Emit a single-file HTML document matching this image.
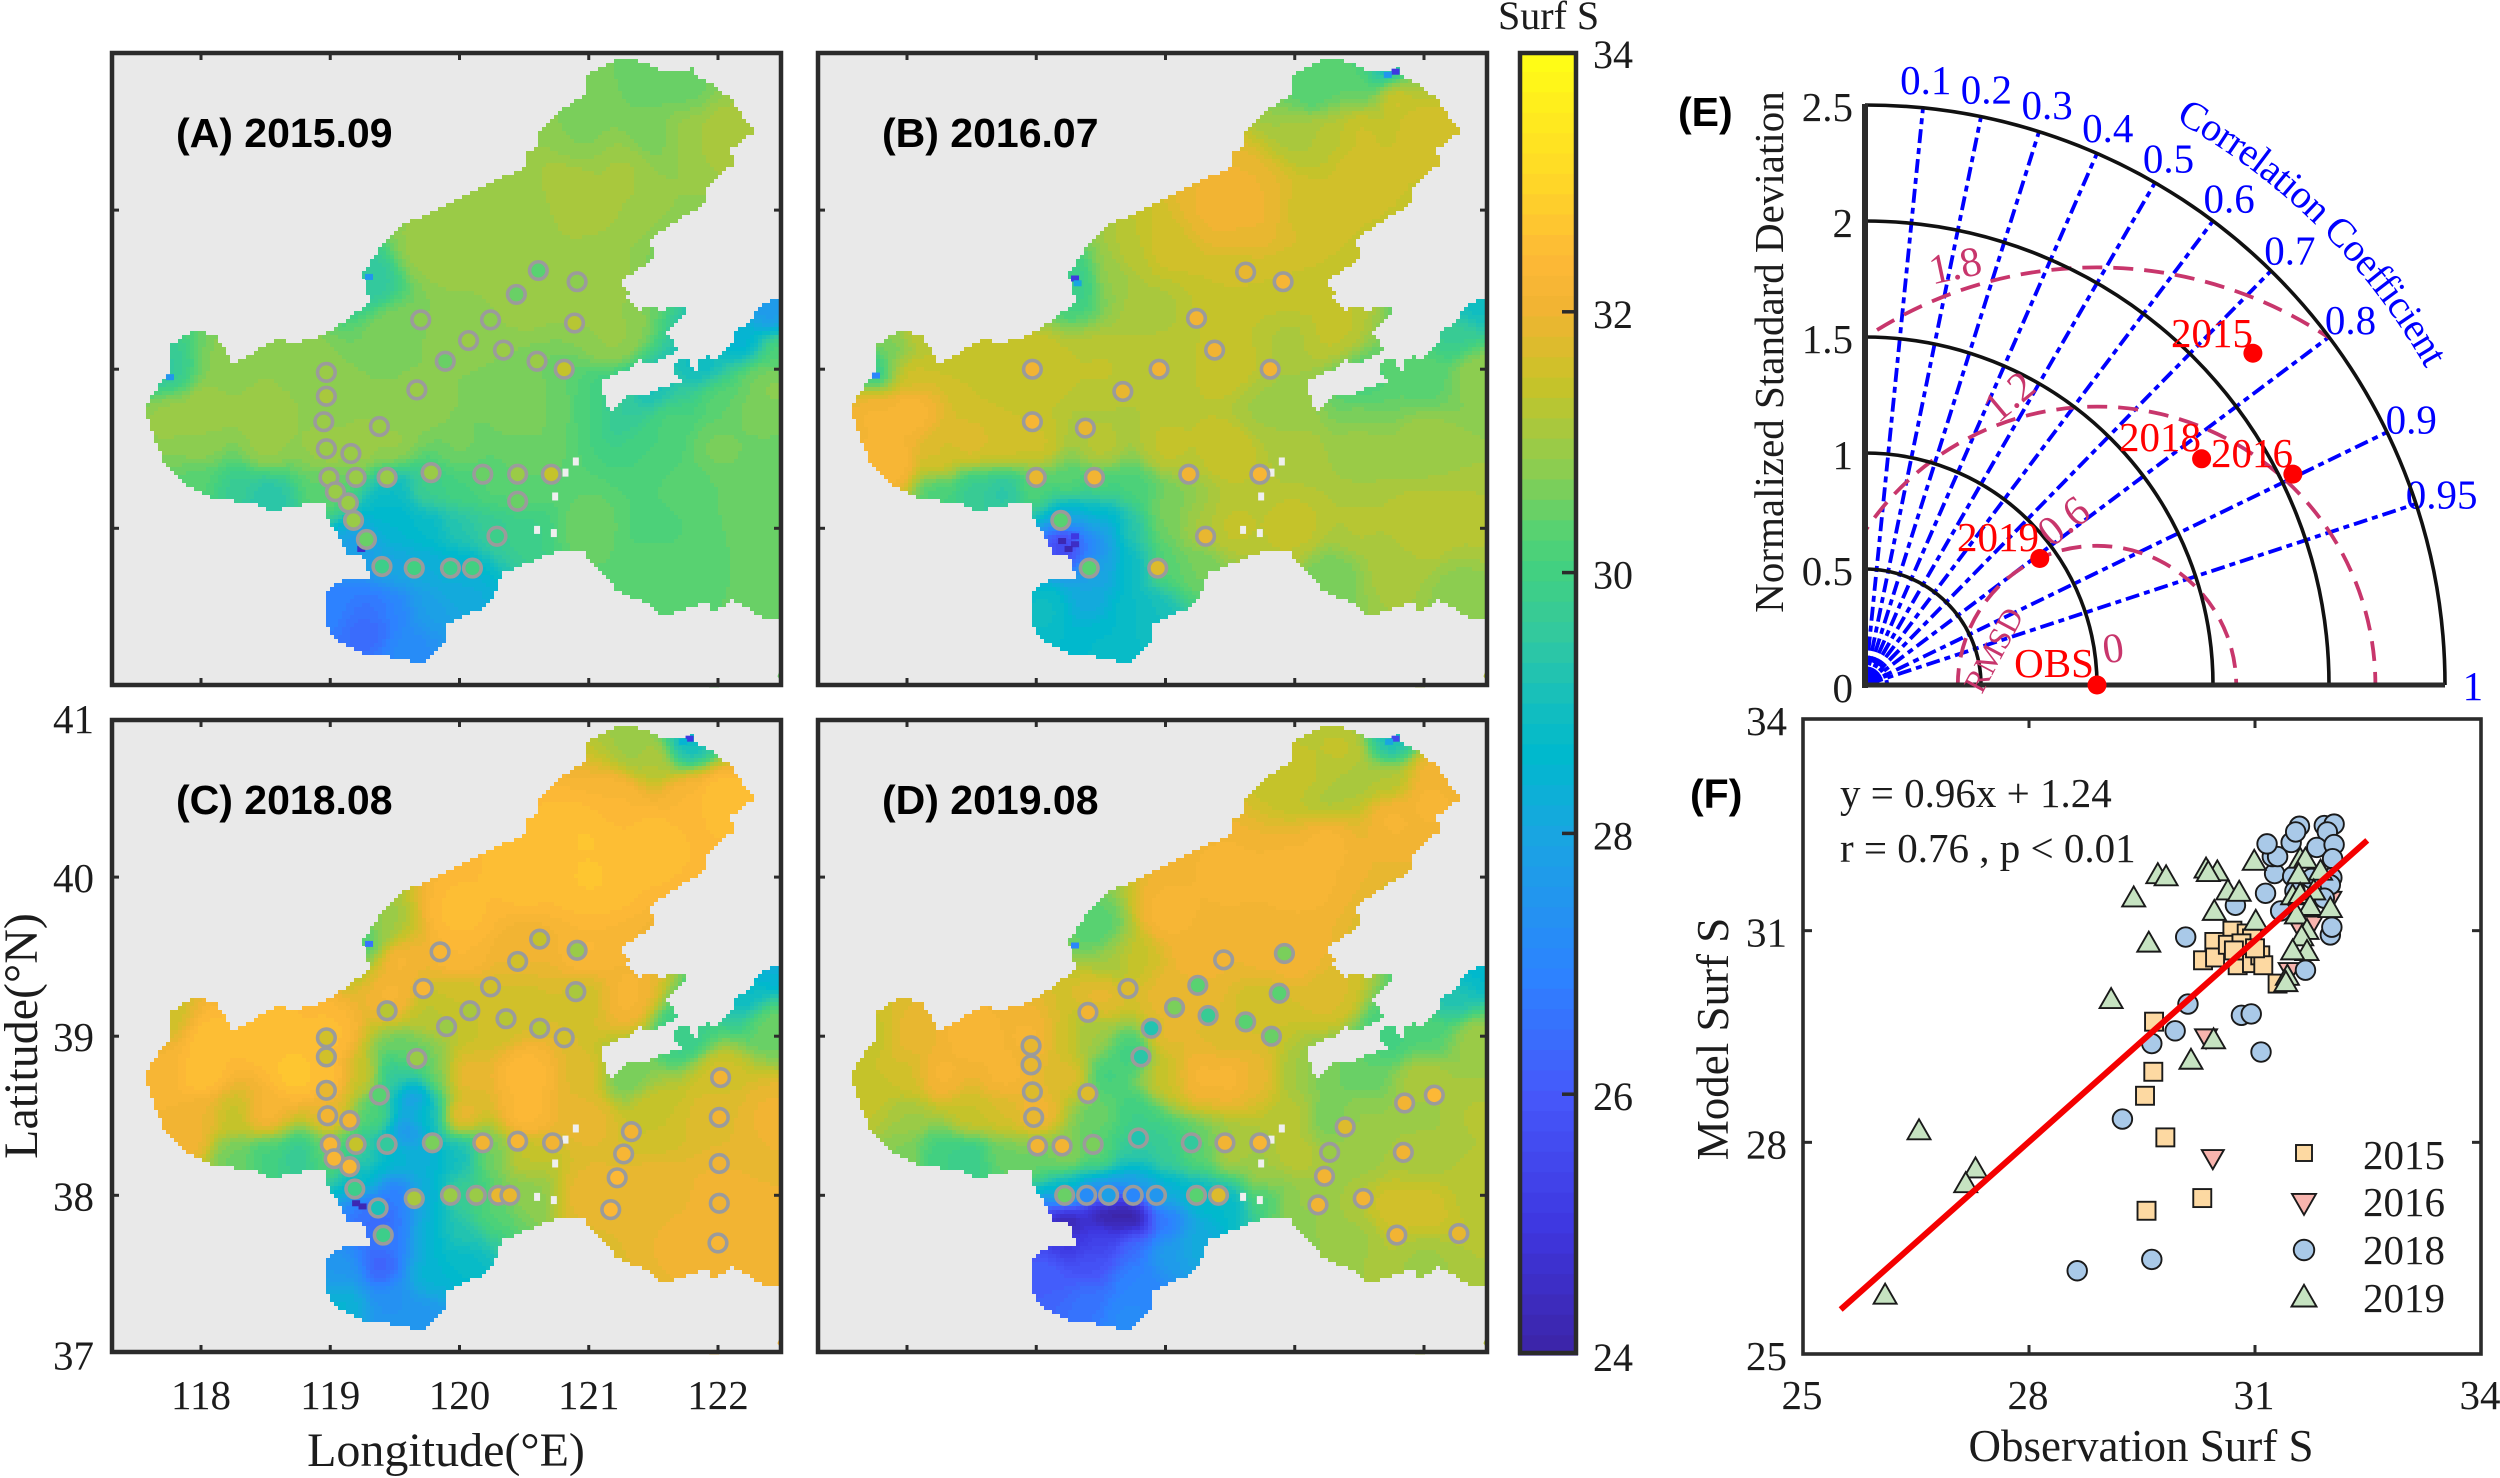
<!DOCTYPE html>
<html lang="en">
<head>
<meta charset="utf-8">
<title>Surface salinity maps, Taylor diagram and scatter</title>
<style>
html,body{margin:0;padding:0;background:#fff;}
svg{display:block;}
text{font-family:"Liberation Serif",serif;fill:#1c1c1c;}
.bold{font-family:"Liberation Sans",sans-serif;font-weight:bold;fill:#000;}
</style>
</head>
<body>
<svg id="figure" xmlns="http://www.w3.org/2000/svg" width="2500" height="1478" viewBox="0 0 2500 1478"></svg>
<script>
/* ---------- colour scale ---------- */
const scaleValues=[24,25,26,26.9,28,28.6,29,29.5,30,30.3,30.8,31.45,32,32.4,33,34];
const scaleColors=[[60,35,165],[62,55,225],[70,88,250],[45,130,255],[25,165,225],[0,185,205],[20,190,190],[50,200,160],[65,208,130],[85,210,115],[140,205,80],[200,195,40],[240,180,50],[253,184,55],[255,215,40],[255,255,20]];
const colorbarTicks=[24,26,28,30,32,34];

/* ---------- maps ---------- */
const lonTicks=[118,119,120,121,122];
const latTicks=[37,38,39,40,41];
const coast=[[121.19,40.94],[121.36,40.94],[121.53,40.90],[121.59,40.86],[121.80,40.89],[121.84,40.83],[121.98,40.78],[122.10,40.70],[122.28,40.49],[122.10,40.38],[122.12,40.29],[121.91,40.14],[121.91,40.04],[121.70,39.95],[121.66,39.92],[121.48,39.82],[121.50,39.69],[121.23,39.54],[121.31,39.48],[121.27,39.45],[121.34,39.41],[121.40,39.37],[121.48,39.40],[121.56,39.37],[121.65,39.39],[121.73,39.40],[121.77,39.35],[121.62,39.26],[121.60,39.23],[121.63,39.20],[121.69,39.12],[121.47,39.03],[121.40,39.06],[121.35,39.03],[121.35,39.01],[121.19,38.96],[121.09,38.92],[121.16,38.73],[121.25,38.79],[121.34,38.85],[121.42,38.83],[121.61,38.90],[121.73,38.92],[121.66,38.99],[121.66,39.03],[121.75,39.08],[121.80,39.01],[121.85,38.98],[121.85,39.05],[121.93,39.08],[121.96,39.05],[122.05,39.12],[122.12,39.17],[122.12,39.23],[122.24,39.29],[122.31,39.38],[122.44,39.45],[122.50,39.44],[122.50,37.44],[122.38,37.43],[122.15,37.53],[122.12,37.56],[121.98,37.47],[121.91,37.53],[121.57,37.45],[121.46,37.53],[121.23,37.60],[121.12,37.70],[120.95,37.86],[120.74,37.85],[120.33,37.72],[120.29,37.60],[120.16,37.49],[119.89,37.40],[119.88,37.29],[119.71,37.15],[119.46,37.19],[119.27,37.21],[119.05,37.29],[118.97,37.40],[118.95,37.59],[119.10,37.68],[119.31,37.69],[119.25,37.82],[119.14,37.83],[118.97,38.08],[118.97,38.15],[118.86,38.16],[118.54,38.11],[118.44,38.15],[118.07,38.19],[117.84,38.30],[117.71,38.41],[117.56,38.76],[117.69,38.92],[117.77,38.99],[117.75,39.14],[117.95,39.25],[118.12,39.21],[118.24,39.05],[118.29,39.05],[118.61,39.20],[118.71,39.16],[118.93,39.21],[119.08,39.28],[119.31,39.43],[119.25,39.59],[119.33,39.71],[119.46,39.82],[119.54,39.90],[119.74,39.97],[120.08,40.10],[120.29,40.20],[120.38,40.22],[120.50,40.27],[120.50,40.34],[120.61,40.41],[120.59,40.48],[120.82,40.65],[120.97,40.72],[120.97,40.84]];
const islets=[[120.90,38.42],[120.82,38.35],[120.74,38.20],[120.60,37.99],[120.73,37.97]];
const cornerPatchEast=[[122.46,37.07],[122.50,37.15],[122.50,37.02]];
const cornerPatchSouth=[[121.93,37.0],[121.97,37.03],[122.01,37.0]];

const fieldA=[[121.5,40.75,30.5],[121.75,40.5,30.95],[122,40.5,31.15],[121.75,40.75,30.5],[121.25,40.25,31.05],[120.85,40.1,31.15],[121.5,40.5,30.6],[121,40.5,30.7],[120.5,40,30.9],[120,39.75,31],[120.5,39.5,30.95],[121,39.5,30.95],[121.2,39.2,30.9],[120,39.25,30.8],[119.75,39.75,30.95],[119.5,39.25,30.7],[118.25,39,30.8],[117.75,38.75,31],[118,38.75,31.05],[118.5,38.75,31],[118.75,39,30.8],[119,38.75,30.8],[118,38.3,30.3],[118.25,38.25,29.7],[118.5,38.2,29.3],[118,38.5,30.85],[118.5,38.5,30.95],[119,38.25,30.4],[119,38.5,31],[119.25,38.5,31],[119.5,38.5,30.95],[119.75,38.75,30.8],[120,38.5,30.6],[120.5,38.75,30.7],[120.5,38.5,30.55],[120.75,38.75,30.55],[121,38.75,30.1],[121.25,38.75,29.6],[121.5,38.85,29],[121.9,39,28.8],[122.2,39.15,28.3],[122.4,39.35,27.6],[121.6,38.7,30.2],[122,38.85,30.4],[122.3,38.95,30.6],[122.45,39.1,30.3],[122.25,38.75,30.6],[122.4,38.9,30.85],[122,38.5,30.6],[121.5,38.5,30.1],[121.75,38.25,30.3],[122.25,38.25,30.5],[121.5,38,30.2],[122,37.75,30.4],[122.4,37.75,30.5],[121,38,30.5],[121.5,37.75,30.35],[120.5,38.25,30.4],[120.25,38.25,30.3],[120,38.25,30.1],[119.75,38.25,29.9],[119.5,38.25,28.8],[119.5,38.1,28.6],[120,38,29.3],[120.5,38,29.9],[120.25,38,29.7],[119.75,38,28.7],[119.5,38,28.5],[119.5,37.75,28],[119.25,37.9,27.8],[120,37.75,28.5],[119.75,37.75,28.2],[119.35,37.5,26.6],[119.3,37.37,26.3],[119,37.5,26.9],[119.5,37.5,27],[119.75,37.5,27.8],[120,37.6,28.1],[119.6,37.25,27.2],[119.3,39.55,29.5],[117.72,38.95,29.5]];
const fieldB=[[121.3,40.85,30.3],[121.15,40.7,30.2],[121.5,40.8,30.4],[121.7,40.85,28.5],[122,40.5,31.6],[121.75,40.75,32],[121.5,40.5,31.55],[121.25,40.5,31.3],[121.1,40.5,31.15],[120.75,40,32],[120.4,40,32],[120.6,40.1,32],[121,40,31.6],[121.5,40.25,31.6],[120,39.75,31.6],[119.75,39.7,31.3],[119.6,39.6,30.9],[119.9,39.4,31.15],[120.5,39.5,31.5],[121,39.5,31.5],[121,39.2,31.15],[121.25,39.25,31.4],[120.5,39,31.45],[120,39,31.3],[119.5,39,31.35],[119,39,31.5],[118.5,39,31.5],[118,39,31.7],[117.8,39.2,30.8],[117.9,39.1,30.5],[118.1,39.25,31.4],[117.75,38.75,32.2],[117.9,38.4,32.3],[118,38.75,32.3],[118.25,38.4,31.8],[118.25,38.25,30],[118.5,38.25,29.6],[118.5,38.5,31.8],[118.75,38.5,31.7],[118.75,38.25,29.3],[119,38.5,31.6],[119,38.25,30.3],[119.25,38.25,30.5],[119.5,38.25,30.3],[119.5,38.5,31.3],[120,38.5,31.4],[120.5,38.5,31.5],[120.75,38.75,31],[121,38.75,30.9],[121,38.5,31.15],[121.5,38.75,30.75],[121.5,38.85,30],[122,39,30.3],[122.25,39.2,29.7],[122.4,39.4,28.9],[122.4,39,30.9],[122,38.5,31],[121.5,38.5,31],[121.5,38,31.2],[122,38,31.35],[122.4,38,31.2],[121.75,37.75,31.1],[121,38,31.4],[122.3,37.6,30.8],[121.3,37.7,30.6],[120.5,38,31.4],[120.25,38,31.1],[120,38.1,30.7],[120,38,30.6],[119.75,38.25,30.2],[119.75,38,29.3],[119.5,38,27.8],[119.4,37.9,26.8],[119.25,37.9,25],[119.5,38.1,28.7],[119.25,38.1,28],[120,37.75,30.4],[119.75,37.75,28.8],[119.5,37.75,27.9],[120.25,37.75,30.6],[119.4,37.55,28.1],[119.1,37.5,28.9],[119.5,37.3,28.7],[119.75,37.5,28.8],[119.9,37.5,29],[119.3,39.55,29.8],[117.75,39.0,29.5]];
const fieldC=[[121.5,40.75,31.3],[121.4,40.8,30.9],[121.75,40.85,28.8],[122,40.5,32.6],[121.75,40.5,32.3],[121.25,40.5,32.3],[121,40.25,32.6],[121.5,40.25,32.55],[120.5,40,32.5],[121,40,32.6],[120,39.75,32.5],[119.5,39.5,32.3],[119.4,39.65,31],[120,39.5,32.3],[120.5,39.5,32],[121,39.5,32.3],[121.25,39.25,32.2],[120,39.25,31.5],[120.5,39.25,31.6],[121,39.25,31.5],[120.25,39.1,31.5],[119.5,39.25,32.2],[119.75,39.15,31.3],[119,39,32.5],[118.5,39,32.6],[118,39,32.6],[117.8,39.1,31.5],[117.7,38.75,32.2],[118,38.75,32.6],[118,38.5,32],[117.9,38.35,32.1],[118.25,38.25,30.5],[118.5,38.25,30],[118.75,38.25,29.6],[118.5,38.5,32.3],[118.75,38.75,32.7],[118.25,38.5,31.4],[119,38.5,32],[119.25,38.75,31.5],[119,38.75,32.6],[119.5,38.75,29.5],[119.65,38.6,27.4],[119.6,38.4,27.2],[119.75,38.5,29],[119.85,38.75,30.5],[119.6,38.9,30.5],[119.35,38.5,30.3],[120,38.75,32.2],[120,38.5,32.2],[120.5,38.75,32.4],[120.5,38.5,32.4],[121,38.75,31.8],[121,38.5,31.9],[121.25,38.75,30.5],[121.75,39,29.8],[122.25,39.25,28.8],[122.4,39.4,28.3],[122.4,39.1,30.6],[122,38.75,31.6],[121.5,38.5,31.5],[122,38.5,31.8],[122.4,38.5,32],[121.5,38,31.9],[122,38,32],[122.4,37.75,32],[121.75,37.75,32],[121,38,31.9],[120.5,38.25,31.4],[120.25,38.25,30.6],[120,38.25,28.9],[119.75,38.25,28.3],[119.5,38.25,28.6],[119.25,38.25,29.6],[119.25,38.1,28.8],[119,38.25,30.4],[119.5,38,26.7],[119.4,37.85,26.2],[119.3,37.9,26.5],[119.75,38,28.3],[120,38,29.8],[120.5,38,30.8],[120.25,37.9,30.3],[120,37.75,29.3],[119.75,37.75,28.5],[119.5,37.75,26.7],[119.4,37.55,26.1],[119.1,37.5,27.5],[119.1,37.35,28.5],[119.5,37.35,27.4],[119.75,37.5,28.5],[120,37.6,28.7],[119.7,37.25,27.5],[119.3,39.6,30]];
const fieldD=[[121.4,40.8,31.4],[121.25,40.5,31.1],[121.5,40.6,31.1],[121.75,40.6,31.2],[121.1,40.6,31.4],[121.75,40.85,29],[122,40.5,32.2],[122.05,40.65,32.1],[121.75,40.4,32.2],[121.25,40.25,32.2],[121,40,32.2],[120.5,40,32.15],[120,39.75,32.2],[119.75,39.5,31.5],[119.5,39.65,30.2],[119.6,39.5,31],[120.25,39.5,32.1],[120.75,39.5,32],[121,39.5,32.1],[121.25,39.25,31.7],[120.75,39.2,31.5],[120.25,39.25,31.9],[120.5,39,31.7],[120.25,38.75,32.2],[120.5,38.75,32.2],[120.75,38.75,31.9],[121,38.75,31],[120,38.75,31.5],[120,39,31.9],[120,39.25,31.9],[119.75,38.9,29.9],[119.5,38.75,29.9],[119.5,38.5,30.5],[119.4,39,31],[119.3,38.75,31.9],[119.2,39,31.6],[119.75,38.5,29.9],[119.5,39.25,31.9],[119,39,32.2],[118.5,39,32.2],[118,39,31.9],[117.75,39,31.4],[118,38.75,31.6],[118.25,38.75,32.2],[118.75,38.75,32.2],[119,38.5,32.2],[117.75,38.6,31.4],[118,38.5,31],[118.25,38.25,29.9],[118,38.25,30.7],[118.5,38.25,29.7],[118.75,38.25,30.5],[118.5,38.5,31.5],[118.75,38.5,31.7],[119,38.25,30.5],[119.25,38.25,30.9],[121.5,38.75,30.4],[121.25,38.75,30.6],[122,38.75,31.2],[122,39,30.2],[121.75,39,30],[122.25,39.25,29.2],[122.4,39.4,28.6],[122.4,39,31],[121.5,38.5,30.9],[121.25,38.5,30.5],[122,38.5,31],[122.4,38.5,31.2],[121,38.5,31.3],[121,38.25,31.3],[121.5,38.25,31],[122,38.25,31.1],[122.4,38,31.3],[122,37.9,31.6],[121.75,37.9,31.6],[121.5,37.75,31],[122,37.6,31],[121,37.95,30.9],[120.75,38.1,31.2],[120.5,38.25,31.2],[120.25,38.25,30.4],[120,38.25,29.8],[119.75,38.25,29.6],[119.5,38.25,30.5],[119.75,38.1,27.8],[120,38,28.4],[120.25,38,28.7],[120.5,37.95,28.6],[120.75,38,30],[119.5,38,28.2],[119.25,38,29],[119.5,37.9,23.2],[119.75,37.85,23.4],[119.25,37.85,23.5],[119.6,37.88,23.5],[120,37.85,26.6],[119.5,37.75,25.5],[119.75,37.7,26.7],[120,37.65,27.8],[120.25,37.7,28.2],[119.25,37.7,25],[119.4,37.55,25.8],[119.1,37.5,26.2],[119.4,37.35,26.6],[119.75,37.45,27],[119.7,37.25,27.2]];

const lowA=[[119.24,37.87,24.6],[119.3,39.58,27.5],[117.76,38.95,27.5]];
const lowB=[[121.78,40.87,25],[121.72,40.85,27.5],[119.3,39.57,25],[119.32,39.54,28],[117.76,38.96,27],[119.2,37.92,24.3],[119.3,37.9,24.5],[119.25,37.87,24.3],[119.3,37.95,25]];
const lowC=[[121.78,40.87,25],[121.73,40.85,28.5],[119.3,39.58,26.5],[119.2,37.95,24.3],[119.25,37.93,24.3]];
const lowD=[[121.78,40.87,25.5],[121.73,40.85,28],[119.3,39.57,27]];

const stationsA=[[120.61,39.62,30.3],[120.91,39.55,30.8],[120.44,39.47,30.5],[119.70,39.31,30.85],[120.24,39.31,30.8],[120.89,39.29,31.3],[120.07,39.18,30.9],[120.34,39.12,31],[119.89,39.05,30.5],[120.60,39.05,31],[120.81,39.00,31.45],[119.67,38.87,30.9],[118.97,38.98,30.9],[118.97,38.83,31.1],[118.95,38.67,31],[119.38,38.64,30.9],[118.97,38.50,30.95],[119.16,38.47,30.9],[118.99,38.32,31],[119.20,38.32,30.9],[119.44,38.32,31],[119.78,38.35,31],[120.18,38.34,30.55],[120.45,38.34,30.95],[120.71,38.34,31.4],[120.45,38.17,30.5],[119.04,38.23,31],[119.14,38.16,31],[119.18,38.05,31],[119.28,37.93,30.5],[119.40,37.76,29.8],[119.65,37.75,30],[119.93,37.75,29.9],[120.10,37.75,30],[120.29,37.95,29.9]];
const stationsB=[[120.62,39.61,31.9],[120.91,39.55,32.2],[120.24,39.32,32],[120.38,39.12,32.1],[118.97,39.0,32.1],[119.95,39.0,32.1],[120.81,39.0,32.1],[119.67,38.86,31.9],[118.97,38.67,32.2],[119.38,38.63,31.9],[119.0,38.32,31.9],[119.45,38.32,32],[120.18,38.34,32],[120.73,38.34,32.2],[119.19,38.05,30.4],[119.41,37.75,30.4],[120.31,37.95,31.9],[119.94,37.75,31.7]];
const stationsC=[[120.62,39.61,31.4],[120.91,39.54,31],[119.85,39.53,32.2],[120.45,39.47,31.6],[120.24,39.31,31.5],[119.72,39.30,32.2],[120.90,39.28,31.1],[119.44,39.16,31.3],[120.08,39.16,31.1],[120.36,39.11,31.3],[119.90,39.06,30.9],[120.62,39.05,31.2],[120.81,38.99,31.6],[118.97,38.99,31.6],[118.97,38.87,31.5],[119.67,38.86,31],[118.97,38.66,31.9],[119.38,38.63,30.3],[118.98,38.50,32],[119.15,38.47,32],[119.0,38.32,32.2],[119.20,38.32,31.4],[119.44,38.32,29.5],[119.79,38.33,30.6],[120.18,38.33,32.1],[120.45,38.34,32.2],[120.72,38.33,32.1],[119.03,38.23,32.2],[119.15,38.18,32.2],[119.19,38.04,29.9],[119.37,37.92,29],[119.41,37.75,29.9],[119.65,37.98,31.1],[119.93,38.0,30.9],[120.13,38.0,30.9],[120.30,38.0,31.9],[120.39,38.0,31.9],[121.33,38.40,32],[121.27,38.26,32.2],[121.22,38.11,32.4],[121.17,37.91,32.4],[122.02,38.74,32.1],[122.01,38.49,32.1],[122.01,38.20,32.1],[122.01,37.95,32],[122.0,37.70,32.2]];
const stationsD=[[120.92,39.52,30.7],[120.45,39.48,32],[120.25,39.32,30.4],[119.71,39.30,31.7],[120.88,39.27,30.4],[119.40,39.15,32.1],[120.07,39.18,30.6],[120.33,39.13,29.7],[119.89,39.05,29.2],[120.62,39.09,30.4],[120.82,39.0,30.5],[118.96,38.94,31.9],[118.96,38.82,31.9],[119.81,38.87,29.4],[118.97,38.65,31.7],[119.40,38.64,31.7],[118.98,38.49,31.9],[119.01,38.31,32],[119.20,38.31,32],[119.44,38.32,30.6],[119.79,38.36,29.2],[120.20,38.33,29.6],[120.46,38.33,32],[120.73,38.33,32.2],[119.22,38.0,30.5],[119.39,38.0,27.2],[119.56,38.0,27.8],[119.75,38.0,27],[119.93,38.0,27.5],[120.24,38.0,30.3],[120.41,38.0,31.8],[121.39,38.43,31.8],[121.27,38.27,31],[121.23,38.12,32],[121.18,37.94,32],[121.53,37.98,32.1],[121.85,38.58,32.1],[122.08,38.63,32.4],[121.84,38.27,32.1],[121.79,37.75,32],[122.27,37.76,31.9]];

/* ---------- Taylor diagram ---------- */
const stdTicks=[0,0.5,1,1.5,2,2.5];
const stdLabels=["0","0.5","1","1.5","2","2.5"];
const corrTicks=[0.1,0.2,0.3,0.4,0.5,0.6,0.7,0.8,0.9,0.95];
const corrLabels=["0.1","0.2","0.3","0.4","0.5","0.6","0.7","0.8","0.9","0.95"];
const rmsdTicks=[0.6,1.2,1.8];
const taylorNames=["2015","2016","2018","2019","OBS"];
const taylorStd=[2.2,2.056,1.748,0.93,1];
const taylorCorr=[0.76,0.897,0.83,0.81,1];

/* ---------- scatter ---------- */
const scatterTicks=[25,28,31,34];
const obs2015=[29.66,29.65,29.54,29.81,29.56,30.30,30.70,30.46,30.89,30.31,30.47,30.64,30.77,30.86,30.96,31.07,30.96,31.11,31.30,30.82,31.0,30.72];
const mod2015=[29.71,29.0,28.66,28.07,27.03,27.21,31.0,30.84,30.96,30.58,30.62,30.80,30.51,30.72,30.54,30.65,30.89,30.51,30.25,30.82,30.75,30.72];
const obs2016=[30.44,30.35,31.46,31.57,31.75,32.0];
const mod2016=[27.76,29.47,30.41,31.07,31.07,31.42];
const obs2018=[28.64,29.63,29.24,29.63,29.94,30.11,31.08,30.82,30.95,30.08,30.74,31.67,32.0,32.02,31.14,31.34,31.26,31.23,31.30,31.16,31.48,31.59,31.54,31.92,32.05,31.96,31.82,32.05,32.03,32.02,32.0,31.50,31.53,31.75,31.92];
const mod2018=[26.18,26.34,28.33,29.40,29.58,29.96,29.28,29.80,29.82,30.91,31.36,30.44,30.94,31.05,31.53,31.28,31.81,32.05,32.05,32.23,32.25,32.48,32.40,32.49,32.51,32.40,32.18,32.22,32.02,31.75,31.65,31.77,31.56,31.74,31.46];
const obs2019=[26.09,26.54,27.29,27.16,29.09,30.15,30.45,29.59,29.39,29.71,29.82,30.35,30.50,30.38,30.64,30.79,30.46,31.01,30.99,31.60,31.67,31.58,31.87,31.50,31.60,31.78,31.73,31.55,32.0,31.69,31.62,31.69,31.5,31.43,31.41];
const mod2019=[25.85,28.18,27.64,27.43,30.04,29.18,29.47,30.84,31.48,31.81,31.78,31.89,31.85,31.84,31.58,31.56,31.29,31.15,32.0,32.03,32.03,31.81,31.86,31.51,31.53,31.58,31.36,31.24,31.33,31.02,30.93,30.72,30.73,30.37,30.28];
const fitObs=[25.5,32.49];
const fitMod=[25.63,32.28];
const legendYears=["2015","2016","2018","2019"];

/* ---------- helpers ---------- */
const NS='http://www.w3.org/2000/svg';
const root=document.getElementById('figure');
function mk(tag,attrs,parent){
  const el=document.createElementNS(NS,tag);
  for(const k in attrs){el.setAttribute(k,attrs[k]);}
  (parent||root).appendChild(el);
  return el;
}
function label(str,x,y,size,anchor,name,parent,extra){
  const el=mk('text',Object.assign({x:x,y:y,'font-size':size,'text-anchor':anchor||'start'},extra||{}),parent);
  el.textContent=str;
  
  
  return el;
}
function line(x1,y1,x2,y2,stroke,w,name,parent,extra){
  const el=mk('line',Object.assign({x1:x1,y1:y1,x2:x2,y2:y2,stroke:stroke,'stroke-width':w},extra||{}),parent);
  
  
  return el;
}
function group(name,parent){
  const g=mk('g',{},parent);
  
  
  return g;
}
function colorOf(v){
  const levels=64;
  let t=Math.floor((v-24)/10*levels);
  t=Math.max(0,Math.min(levels-1,t));
  const c=24+(t+0.5)*10/levels;
  let i=0;
  while(i<scaleValues.length-2&&c>scaleValues[i+1]){i++;}
  const f=(c-scaleValues[i])/(scaleValues[i+1]-scaleValues[i]);
  const a=scaleColors[i],b=scaleColors[i+1];
  return 'rgb('+Math.round(a[0]+(b[0]-a[0])*f)+','+Math.round(a[1]+(b[1]-a[1])*f)+','+Math.round(a[2]+(b[2]-a[2])*f)+')';
}
function inside(lon,lat,poly){
  let c=false;
  for(let i=0,j=poly.length-1;i<poly.length;j=i++){
    const a=poly[i],b=poly[j];
    if((a[1]>lat)!==(b[1]>lat)&&lon<(b[0]-a[0])*(lat-a[1])/(b[1]-a[1])+a[0]){c=!c;}
  }
  return c;
}

/* ---------- map panel ---------- */
const DEG_X=129.25,DEG_Y=159.1,CELL=4,SOFT=22;
function drawPanel(cfg){
  const L=cfg.left,T=cfg.top,W=673,H=636;
  const xOf=lon=>L+91+(lon-118)*DEG_X;
  const yOf=lat=>T+(41-lat)*DEG_Y;
  const g=group(cfg.name);
  const bg=mk('rect',{x:L,y:T,width:W,height:H,fill:'#e9e9e9'},g);
  
  
  const cells=group('salinity-field',g);
  for(let py=T;py<T+H;py+=CELL){
    let runX=null,runC=null;
    const flush=endX=>{
      if(runX===null){return;}
      const r=mk('rect',{x:runX,y:py,width:endX-runX,height:CELL,fill:runC,'shape-rendering':'crispEdges'},cells);
      
      
      runX=null;
    };
    for(let px=L;px<L+W;px+=CELL){
      const lon=118+(px+CELL/2-L-91)/DEG_X;
      const lat=41-(py+CELL/2-T)/DEG_Y;
      if(!inside(lon,lat,coast)){flush(px);continue;}
      let sw=0,sv=0;
      for(const p of cfg.field){
        const dx=(p[0]-lon)*DEG_X,dy=(p[1]-lat)*DEG_Y;
        const d2=dx*dx+dy*dy+SOFT*SOFT;
        const w=1/(d2*d2*Math.sqrt(d2));
        sw+=w;sv+=w*p[2];
      }
      const c=colorOf(sv/sw);
      if(runX===null){runX=px;runC=c;}
      else if(c!==runC){flush(px);runX=px;runC=c;}
    }
    flush(Math.min(L+W,L+Math.ceil(W/CELL)*CELL));
  }
  for(const p of cfg.low){
    const r=mk('rect',{x:xOf(p[0])-4,y:yOf(p[1])-3,width:8,height:6,fill:colorOf(p[2])},g);
    
    
  }
  for(const isl of islets){
    const r=mk('rect',{x:xOf(isl[0])-3,y:yOf(isl[1])-4,width:6,height:8,fill:'#efefef'},g);
    
    
  }
  for(const patch of [cornerPatchEast,cornerPatchSouth]){
    const r=mk('polygon',{points:patch.map(q=>xOf(q[0])+','+yOf(q[1])).join(' '),fill:colorOf(cfg.patchValue)},g);
    
    
  }
  const st=group('station-markers',g);
  for(const s of cfg.stations){
    const c=mk('circle',{cx:xOf(s[0]),cy:yOf(s[1]),r:8.8,fill:colorOf(s[2]),stroke:'#9b9b9b','stroke-width':3.6},st);
    
    
  }
  for(const lon of lonTicks){
    line(xOf(lon),T,xOf(lon),T+9,'#2b2b2b',3,'lon-tick-top',g);
    line(xOf(lon),T+H-9,xOf(lon),T+H,'#2b2b2b',3,'lon-tick-bottom',g);
  }
  for(const lat of latTicks.slice(1,4)){
    line(L,yOf(lat),L+9,yOf(lat),'#2b2b2b',3,'lat-tick-left',g);
    line(L+W-9,yOf(lat),L+W,yOf(lat),'#2b2b2b',3,'lat-tick-right',g);
  }
  const frame=mk('rect',{x:L+2,y:T+2,width:W-4,height:H-4,fill:'none',stroke:'#2b2b2b','stroke-width':4.5},g);
  
  
  const t=label(cfg.title,L+66,T+96,41,'start','panel-title',g);
  t.setAttribute('class','bold');
  if(cfg.axes){
    for(const lon of lonTicks){label(String(lon),xOf(lon),1409,41,'middle','lon-tick-label',g);}
    for(const lat of latTicks){label(String(lat),94,yOf(lat)+15,41,'end','lat-tick-label',g);}
    label('Longitude(°E)',446,1466,48,'middle','x-axis-title',g);
    const yt=label('Latitude(°N)',0,0,48,'middle','y-axis-title',g);
    yt.setAttribute('transform','translate(37 1036) rotate(-90)');
  }
}
drawPanel({name:'map-panel-a',left:110,top:51,title:'(A) 2015.09',field:fieldA,low:lowA,stations:stationsA,patchValue:30.5});
drawPanel({name:'map-panel-b',left:816,top:51,title:'(B) 2016.07',field:fieldB,low:lowB,stations:stationsB,patchValue:31.3});
drawPanel({name:'map-panel-c',left:110,top:718,title:'(C) 2018.08',field:fieldC,low:lowC,stations:stationsC,patchValue:32.2,axes:true});
drawPanel({name:'map-panel-d',left:816,top:718,title:'(D) 2019.08',field:fieldD,low:lowD,stations:stationsD,patchValue:31.3});

/* ---------- colour bar ---------- */
(function(){
  const g=group('colorbar');
  const top=51,bottom=1355,left=1518,right=1578;
  const yOf=v=>bottom-(v-24)/10*(bottom-top);
  for(let i=0;i<64;i++){
    const v=24+(i+0.5)*10/64;
    const r=mk('rect',{x:left,y:yOf(24+(i+1)*10/64),width:right-left,height:(bottom-top)/64+0.6,fill:colorOf(v)},g);
    
    
  }
  for(const t of colorbarTicks){
    if(t>24&&t<34){line(right-16,yOf(t),right,yOf(t),'#2b2b2b',3.5,'colorbar-tick',g);}
    label(String(t),1593,yOf(t)+(t===34?17:16),40,'start','colorbar-tick-label',g);
  }
  const f=mk('rect',{x:left+2,y:top+2,width:right-left-4,height:bottom-top-4,fill:'none',stroke:'#2b2b2b','stroke-width':4.5},g);
  
  
  label('Surf S',1498,29,40,'start','colorbar-title',g);
})();

/* ---------- Taylor diagram ---------- */
(function(){
  const g=group('taylor-diagram');
  const ox=1865,oy=685,U=232;
  const rad=v=>v*U;
  const px=(r,c)=>ox+rad(r)*c;
  const py=(r,c)=>oy-rad(r)*Math.sqrt(Math.max(0,1-c*c));
  const RMAX=stdTicks[stdTicks.length-1];
  const defs=mk('defs',{},g);
  const cp=mk('clipPath',{id:'taylor-clip'},defs);
  mk('path',{d:'M'+ox+' '+oy+' L'+px(RMAX,1)+' '+oy+' A'+rad(RMAX)+' '+rad(RMAX)+' 0 0 0 '+ox+' '+py(RMAX,0)+' Z'},cp);
  corrTicks.forEach((c,i)=>{
    line(px(0.02,c),py(0.02,c),px(RMAX,c),py(RMAX,c),'#0000ff',3.8,'correlation-ray',g,{'stroke-dasharray':'14 5 6 5'});
    label(corrLabels[i],px(2.616,c),py(2.616,c)+13,41,'middle','correlation-tick-label',g,{style:'fill:#0000ff'});
  });
  label('1',px(2.62,1),py(2.62,1)+15,41,'middle','correlation-tick-label',g,{style:'fill:#0000ff'});
  const hub=mk('path',{d:'M'+ox+' '+oy+' L'+(ox+13)+' '+oy+' A13 13 0 0 0 '+ox+' '+(oy-13)+' Z',fill:'#0000ff'},g);
  
  
  const rings=mk('path',{d:'M'+(ox+22)+' '+oy+' A22 22 0 0 0 '+ox+' '+(oy-22),fill:'none',stroke:'#0000ff','stroke-width':4,'stroke-dasharray':'5 2'},g);
  
  
  const arcs=group('rmsd-arcs',g);
  arcs.setAttribute('clip-path','url(#taylor-clip)');
  const obsX=px(taylorStd[4],taylorCorr[4]);
  for(const r of rmsdTicks){
    const c=mk('circle',{cx:obsX,cy:oy,r:rad(r),fill:'none',stroke:'#c8366c','stroke-width':3.8,'stroke-dasharray':'20 11'},arcs);
    
    
  }
  stdTicks.forEach((s,i)=>{
    if(s>0){
      const a=mk('path',{d:'M'+(ox+rad(s))+' '+oy+' A'+rad(s)+' '+rad(s)+' 0 0 0 '+ox+' '+(oy-rad(s)),fill:'none',stroke:'#111','stroke-width':3.6},g);
      
      
    }
    label(stdLabels[i],1853,oy-rad(s)+(s===0?17:16),41,'end','std-tick-label',g);
  });
  line(ox,oy+3,ox,py(RMAX,0)-1,'#2b2b2b',6,'taylor-y-axis',g);
  line(ox-3,oy,px(RMAX,1),oy,'#2b2b2b',5,'taylor-x-axis',g);
  const rotated=(str,x,y,ang,size,name)=>{
    const t=label(str,0,0,size,'middle',name,g,{style:'fill:#c8366c'});
    t.setAttribute('transform','translate('+x+' '+y+') rotate('+ang+')');
  };
  rotated('0',2115,662,-8,42,'rmsd-tick-label');
  rotated('0.6',2072,532,-38,42,'rmsd-tick-label');
  rotated('1.2',2018,407,-40,42,'rmsd-tick-label');
  rotated('1.8',1958,279,-12,42,'rmsd-tick-label');
  rotated('RMSD',2003,655,-62,32,'rmsd-axis-title');
  taylorNames.forEach((n,i)=>{
    const dot=mk('circle',{cx:px(taylorStd[i],taylorCorr[i]),cy:py(taylorStd[i],taylorCorr[i]),r:9.5,fill:'#ff0000'},g);
    
    
  });
  const red=[['2015',2212,347],['2016',2252,467],['2018',2160,451],['2019',1998,551],['OBS',2054,677]];
  for(const r of red){label(r[0],r[1],r[2],41,'middle','taylor-point-label',g,{style:'fill:#ff0000'});}
  const a0=61.2*Math.PI/180,a1=24*Math.PI/180,rb=644;
  mk('path',{id:'corr-title-path',d:'M'+(ox+rb*Math.cos(a0))+' '+(oy-rb*Math.sin(a0))+' A'+rb+' '+rb+' 0 0 1 '+(ox+rb*Math.cos(a1))+' '+(oy-rb*Math.sin(a1)),fill:'none'},defs);
  const ct=mk('text',{'font-size':40,'letter-spacing':-0.65,style:'fill:#0000ff'},g);
  
  
  const tp=mk('textPath',{href:'#corr-title-path'},ct);
  tp.textContent='Correlation Coefficient';
  const yt=label('Normalized Standard Deviation',0,0,41,'middle','std-axis-title',g);
  yt.setAttribute('transform','translate(1783 352) rotate(-90)');
  const e=label('(E)',1678,126,41,'start','panel-title',g);
  e.setAttribute('class','bold');
})();

/* ---------- scatter ---------- */
(function(){
  const g=group('scatter-panel');
  const L=1803,R=2481,T=719,B=1354;
  const xOf=v=>L+(v-25)/9*(R-L);
  const yOf=v=>B-(v-25)/9*(B-T);
  const shapes={
    square:(x,y,s,parent,fill)=>mk('rect',{x:x-s/2,y:y-s/2,width:s,height:s,fill:fill,stroke:'#1a1a1a','stroke-width':1.9},parent),
    down:(x,y,s,parent,fill)=>mk('polygon',{points:(x-s/2)+','+(y-s*0.42)+' '+(x+s/2)+','+(y-s*0.42)+' '+x+','+(y+s*0.45),fill:fill,stroke:'#1a1a1a','stroke-width':1.9},parent),
    circle:(x,y,s,parent,fill)=>mk('circle',{cx:x,cy:y,r:s/2,fill:fill,stroke:'#1a1a1a','stroke-width':1.9},parent),
    up:(x,y,s,parent,fill)=>mk('polygon',{points:(x-s/2)+','+(y+s*0.42)+' '+(x+s/2)+','+(y+s*0.42)+' '+x+','+(y-s*0.45),fill:fill,stroke:'#1a1a1a','stroke-width':1.9},parent)
  };
  const series=[
    {name:'2015',xs:obs2015,ys:mod2015,shape:'square',size:18,legend:16,fill:'#fdd9a2'},
    {name:'2016',xs:obs2016,ys:mod2016,shape:'down',size:22,legend:24,fill:'#f8b4ae'},
    {name:'2018',xs:obs2018,ys:mod2018,shape:'circle',size:19.5,legend:20.5,fill:'#a9c9e8'},
    {name:'2019',xs:obs2019,ys:mod2019,shape:'up',size:23,legend:25,fill:'#c6e3c1'}
  ];
  for(const s of series){
    const sg=group('series-'+s.name,g);
    s.xs.forEach((v,i)=>{
      const m=shapes[s.shape](xOf(v),yOf(s.ys[i]),s.size,sg,s.fill);
      
      
    });
  }
  line(xOf(fitObs[0]),yOf(fitMod[0]),xOf(fitObs[1]),yOf(fitMod[1]),'#f40000',6,'regression-line',g);
  for(const t of scatterTicks){
    if(t>25&&t<34){
      line(xOf(t),T,xOf(t),T+9,'#2b2b2b',3,'x-tick-top',g);
      line(xOf(t),B-9,xOf(t),B,'#2b2b2b',3,'x-tick-bottom',g);
      line(L,yOf(t),L+9,yOf(t),'#2b2b2b',3,'y-tick-left',g);
      line(R-9,yOf(t),R,yOf(t),'#2b2b2b',3,'y-tick-right',g);
    }
    label(String(t),xOf(t)-1,1409,41,'middle','x-tick-label',g);
    label(String(t),1787,yOf(t)+16,41,'end','y-tick-label',g);
  }
  const f=mk('rect',{x:L,y:T,width:R-L,height:B-T,fill:'none',stroke:'#2b2b2b','stroke-width':3.6},g);
  
  
  label('Observation Surf S',2141,1461,45,'middle','x-axis-title',g);
  const yt=label('Model Surf S',0,0,45,'middle','y-axis-title',g);
  yt.setAttribute('transform','translate(1728 1039) rotate(-90)');
  label('y = 0.96x + 1.24',1840,807,41,'start','regression-equation',g);
  label('r = 0.76 , p < 0.01',1840,862,41,'start','correlation-annotation',g);
  const p=label('(F)',1690,808,41,'start','panel-title',g);
  p.setAttribute('class','bold');
  const lys=[1153,1204,1250,1296];
  const tys=[1169,1216,1264,1312];
  series.forEach((s,i)=>{
    const m=shapes[s.shape](2304,lys[i],s.legend,g,s.fill);
    
    
    label(legendYears[i],2363,tys[i],41,'start','legend-label',g);
  });
})();
</script>
</body>
</html>
